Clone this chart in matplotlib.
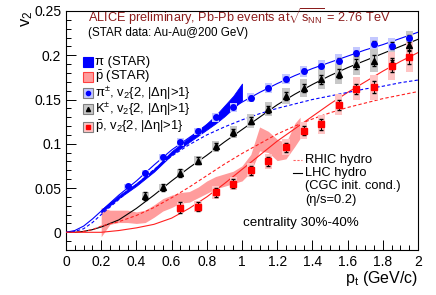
import matplotlib
matplotlib.use('Agg')
import matplotlib.pyplot as plt
from matplotlib.patches import Rectangle
from matplotlib.lines import Line2D
from matplotlib.ticker import MultipleLocator

plt.rcParams['font.family'] = ['Liberation Sans', 'DejaVu Sans']
plt.rcParams['mathtext.fontset'] = 'custom'
plt.rcParams['mathtext.rm'] = 'Liberation Sans'
plt.rcParams['mathtext.it'] = 'Liberation Sans:italic'
plt.rcParams['mathtext.sf'] = 'Liberation Sans'

# ALICE v2{2, |deta|>1}
pi_pt = [0.35, 0.45, 0.55, 0.65, 0.75, 0.85, 0.95, 1.05, 1.15, 1.25, 1.35, 1.45, 1.55, 1.65, 1.75, 1.85, 1.95]
pi_v2 = [0.052, 0.067, 0.085, 0.102, 0.114, 0.130, 0.141, 0.152, 0.163, 0.173, 0.182, 0.188, 0.194, 0.202, 0.213, 0.211, 0.219]
pi_stat = [0.001, 0.001, 0.001, 0.001, 0.001, 0.001, 0.001, 0.002, 0.002, 0.002, 0.002, 0.002, 0.003, 0.003, 0.003, 0.004, 0.004]
pi_sys = [0.003, 0.003, 0.004, 0.004, 0.004, 0.005, 0.005, 0.005, 0.006, 0.006, 0.006, 0.007, 0.007, 0.007, 0.008, 0.008, 0.008]

k_pt = [0.45, 0.55, 0.65, 0.75, 0.85, 0.95, 1.05, 1.15, 1.25, 1.35, 1.45, 1.55, 1.65, 1.75, 1.85, 1.95]
k_v2 = [0.041, 0.051, 0.067, 0.081, 0.097, 0.113, 0.126, 0.139, 0.154, 0.163, 0.173, 0.179, 0.190, 0.194, 0.191, 0.212]
k_stat = [0.005, 0.004, 0.004, 0.004, 0.004, 0.004, 0.004, 0.004, 0.005, 0.005, 0.005, 0.005, 0.006, 0.006, 0.006, 0.007]
k_sys = [0.004, 0.004, 0.005, 0.005, 0.006, 0.007, 0.008, 0.008, 0.009, 0.010, 0.011, 0.011, 0.012, 0.013, 0.014, 0.015]

p_pt = [0.65, 0.75, 0.85, 0.95, 1.05, 1.15, 1.25, 1.35, 1.45, 1.55, 1.65, 1.75, 1.85, 1.95]
p_v2 = [0.028, 0.029, 0.045, 0.055, 0.070, 0.080, 0.096, 0.115, 0.122, 0.144, 0.162, 0.164, 0.188, 0.198]
p_stat = [0.006, 0.005, 0.005, 0.005, 0.005, 0.005, 0.005, 0.005, 0.006, 0.006, 0.006, 0.007, 0.007, 0.008]
p_sys = [0.006, 0.006, 0.007, 0.007, 0.008, 0.008, 0.009, 0.010, 0.011, 0.012, 0.013, 0.014, 0.016, 0.017]

# STAR bands
star_pi_pt = [0.2, 0.3, 0.4, 0.5, 0.6, 0.7, 0.75, 0.8, 0.85, 0.9, 0.95, 1.0]
star_pi_lo = [0.0225, 0.0385, 0.0525, 0.0685, 0.0875, 0.102, 0.109, 0.116, 0.123, 0.131, 0.140, 0.149]
star_pi_hi = [0.0255, 0.0415, 0.0555, 0.0715, 0.0915, 0.107, 0.115, 0.123, 0.132, 0.143, 0.154, 0.168]

star_p_pt = [0.2, 0.25, 0.3, 0.35, 0.4, 0.45, 0.5, 0.55, 0.6, 0.65, 0.7, 0.75, 0.8, 0.85, 0.9, 0.95, 1.0, 1.05, 1.1, 1.15, 1.2, 1.25, 1.3, 1.33]
star_p_lo = [-0.005, 0.009, 0.011, 0.011, 0.010, 0.011, 0.017, 0.024, 0.028, 0.033, 0.034, 0.039, 0.044, 0.049, 0.052, 0.055, 0.058, 0.068, 0.092, 0.090, 0.081, 0.083, 0.097, 0.106]
star_p_hi = [0.028, 0.025, 0.025, 0.025, 0.023, 0.025, 0.031, 0.038, 0.042, 0.045, 0.046, 0.051, 0.058, 0.063, 0.066, 0.069, 0.075, 0.088, 0.119, 0.114, 0.105, 0.101, 0.123, 0.130]

# hydro curves
hyd_pt = [0.0, 0.05, 0.1, 0.15, 0.2, 0.3, 0.4, 0.5, 0.6, 0.7, 0.8, 0.9, 1.0, 1.1, 1.2, 1.3, 1.4, 1.5, 1.6, 1.7, 1.8, 1.9, 2.0]
lhc_pi = [0.0, 0.002, 0.007, 0.015, 0.024, 0.042, 0.058, 0.076, 0.093, 0.107, 0.121, 0.135, 0.147, 0.158, 0.168, 0.177, 0.185, 0.192, 0.199, 0.206, 0.212, 0.219, 0.226]
lhc_k = [0.0, 0.0, 0.001, 0.003, 0.006, 0.014, 0.027, 0.042, 0.058, 0.073, 0.087, 0.102, 0.116, 0.130, 0.144, 0.156, 0.167, 0.177, 0.186, 0.194, 0.202, 0.210, 0.218]
lhc_p = [0.0, 0.0, 0.0, 0.0, 0.0, 0.002, 0.005, 0.009, 0.016, 0.027, 0.040, 0.055, 0.071, 0.087, 0.103, 0.117, 0.131, 0.145, 0.158, 0.170, 0.182, 0.193, 0.203]
rhic_pi = [0.0, 0.001, 0.004, 0.011, 0.020, 0.037, 0.054, 0.071, 0.086, 0.099, 0.110, 0.119, 0.127, 0.134, 0.140, 0.145, 0.150, 0.154, 0.158, 0.162, 0.165, 0.169, 0.172]
rhic_p = [0.0, 0.0, 0.001, 0.003, 0.007, 0.012, 0.019, 0.028, 0.039, 0.051, 0.064, 0.077, 0.089, 0.100, 0.111, 0.120, 0.128, 0.135, 0.141, 0.146, 0.151, 0.155, 0.159]

fig = plt.figure(figsize=(4.36, 2.95), dpi=100)
ax = fig.add_axes([66 / 436, 45 / 295, 352 / 436, 239 / 295])
ax.set_xlim(0, 2)
ax.set_ylim(-0.02, 0.25)

# STAR bands
ax.fill_between(star_p_pt, star_p_lo, star_p_hi, color='#ff9c9c', lw=0, zorder=2)
ax.fill_between(star_pi_pt, star_pi_lo, star_pi_hi, color='#0000ff', lw=0.6, ec='#0000ff', zorder=3)

# hydro
ax.plot(hyd_pt, lhc_pi, color='#0000ff', lw=0.8, zorder=4)
ax.plot(hyd_pt, lhc_k, color='black', lw=0.8, zorder=4)
ax.plot(hyd_pt, lhc_p, color='#ff2020', lw=0.8, zorder=4)
ax.plot(hyd_pt, rhic_pi, color='#0000ff', lw=0.8, ls=(0, (3, 2)), zorder=4)
ax.plot(hyd_pt, rhic_p, color='#ff2020', lw=0.8, ls=(0, (3, 2)), zorder=4)

# systematic boxes
def sys_boxes(pts, vals, errs, color):
    for x, y, e in zip(pts, vals, errs):
        ax.add_patch(Rectangle((x - 0.02, y - e), 0.04, 2 * e, color=color, lw=0, zorder=5))

sys_boxes(pi_pt, pi_v2, pi_sys, '#c4c8ff')
sys_boxes(k_pt, k_v2, k_sys, '#c8c8c8')
sys_boxes(p_pt, p_v2, p_sys, '#ffc4c4')

ax.errorbar(pi_pt, pi_v2, yerr=pi_stat, fmt='o', ms=4, color='#0000ff', ecolor='black', elinewidth=0.7, capsize=1.5, zorder=6)
ax.errorbar(k_pt, k_v2, yerr=k_stat, fmt='^', ms=4, color='black', ecolor='black', elinewidth=0.7, capsize=1.5, zorder=6)
ax.errorbar(p_pt, p_v2, yerr=p_stat, fmt='s', ms=4, color='#ff0000', ecolor='black', elinewidth=0.7, capsize=1.5, zorder=6)

# axes style
ax.xaxis.set_minor_locator(MultipleLocator(0.05))
ax.yaxis.set_minor_locator(MultipleLocator(0.01))
ax.tick_params(which='both', direction='in', labelsize=10)
ax.tick_params(which='major', length=7, width=0.7)
ax.tick_params(which='minor', length=3.5, width=0.7)
ax.set_xticks([0, 0.2, 0.4, 0.6, 0.8, 1, 1.2, 1.4, 1.6, 1.8, 2])
ax.set_xticklabels(['0', '0.2', '0.4', '0.6', '0.8', '1', '1.2', '1.4', '1.6', '1.8', '2'])
ax.set_yticks([0, 0.05, 0.1, 0.15, 0.2, 0.25])
ax.set_yticklabels(['0', '0.05', '0.1', '0.15', '0.2', '0.25'])
for s in ax.spines.values():
    s.set_linewidth(0.8)

fig.text(0.062, 0.965, r'v$_2$', rotation=90, ha='center', va='top', fontsize=12)
fig.text(418 / 436, 7 / 295, r'p$_{\mathrm{t}}$ (GeV/c)', ha='right', va='bottom', fontsize=11.5)

def px(x, y):
    return ((x - 66) / 352, (250 - y) / 239)

tr = ax.transAxes
ax.text(*px(88, 17), r'ALICE preliminary, Pb-Pb events at$\sqrt{\mathrm{s}_{\mathrm{NN}}}$ = 2.76 TeV',
        transform=tr, color='#8b1c1c', fontsize=9.2, va='center', ha='left')
ax.text(*px(88, 33), '(STAR data: Au-Au@200 GeV)', transform=tr, fontsize=8.4, va='center', ha='left')

# legend (manual)
leg = [
    (62, 'π (STAR)'),
    (77, r'$\bar{\mathrm{p}}$ (STAR)'),
    (93, r'π$^{\pm}$, v$_2${2, |Δη|>1}'),
    (109, r'K$^{\pm}$, v$_2${2, |Δη|>1}'),
    (127, r'$\bar{\mathrm{p}}$, v$_2${2, |Δη|>1}'),
]
box_fc = ['#0000ff', '#ff9c9c', '#c4c8ff', '#c8c8c8', '#ffc4c4']
box_ec = ['#0000ff', '#ff4040', '#808080', '#808080', '#808080']
mk = [None, None, ('o', '#0000ff'), ('^', 'black'), ('s', '#ff0000')]
for (y, label), fc, ec, m in zip(leg, box_fc, box_ec, mk):
    x0, y0 = px(83, y + 5)
    ax.add_patch(Rectangle((x0, y0), 10 / 352, 10 / 239, transform=tr, fc=fc, ec=ec, lw=0.8, zorder=7, clip_on=False))
    if m is not None:
        cx, cy = px(88, y)
        ax.plot([cx], [cy], marker=m[0], ms=3, color=m[1], transform=tr, zorder=8)
    ax.text(*px(95, y), label, transform=tr, fontsize=9.4, va='center', ha='left')

# hydro legend
x1, yh = px(293, 160)
x2, _ = px(302, 160)
ax.add_line(Line2D([x1, x2], [yh, yh], transform=tr, color='#ff6060', lw=0.8, ls=(0, (2, 1.5))))
ax.text(*px(305, 160), 'RHIC hydro', transform=tr, fontsize=9.3, va='center', ha='left')
x1, yh = px(293, 173)
ax.add_line(Line2D([x1, x2], [yh, yh], transform=tr, color='black', lw=0.8))
ax.text(*px(305, 173), 'LHC hydro', transform=tr, fontsize=9.3, va='center', ha='left')
ax.text(*px(305, 186), '(CGC init. cond.)', transform=tr, fontsize=9.3, va='center', ha='left')
ax.text(*px(305, 199.5), '(η/s=0.2)', transform=tr, fontsize=9.3, va='center', ha='left')
ax.text(*px(243, 223), 'centrality 30%-40%', transform=tr, fontsize=9.6, va='center', ha='left')

fig.savefig('out.png', dpi=100)
